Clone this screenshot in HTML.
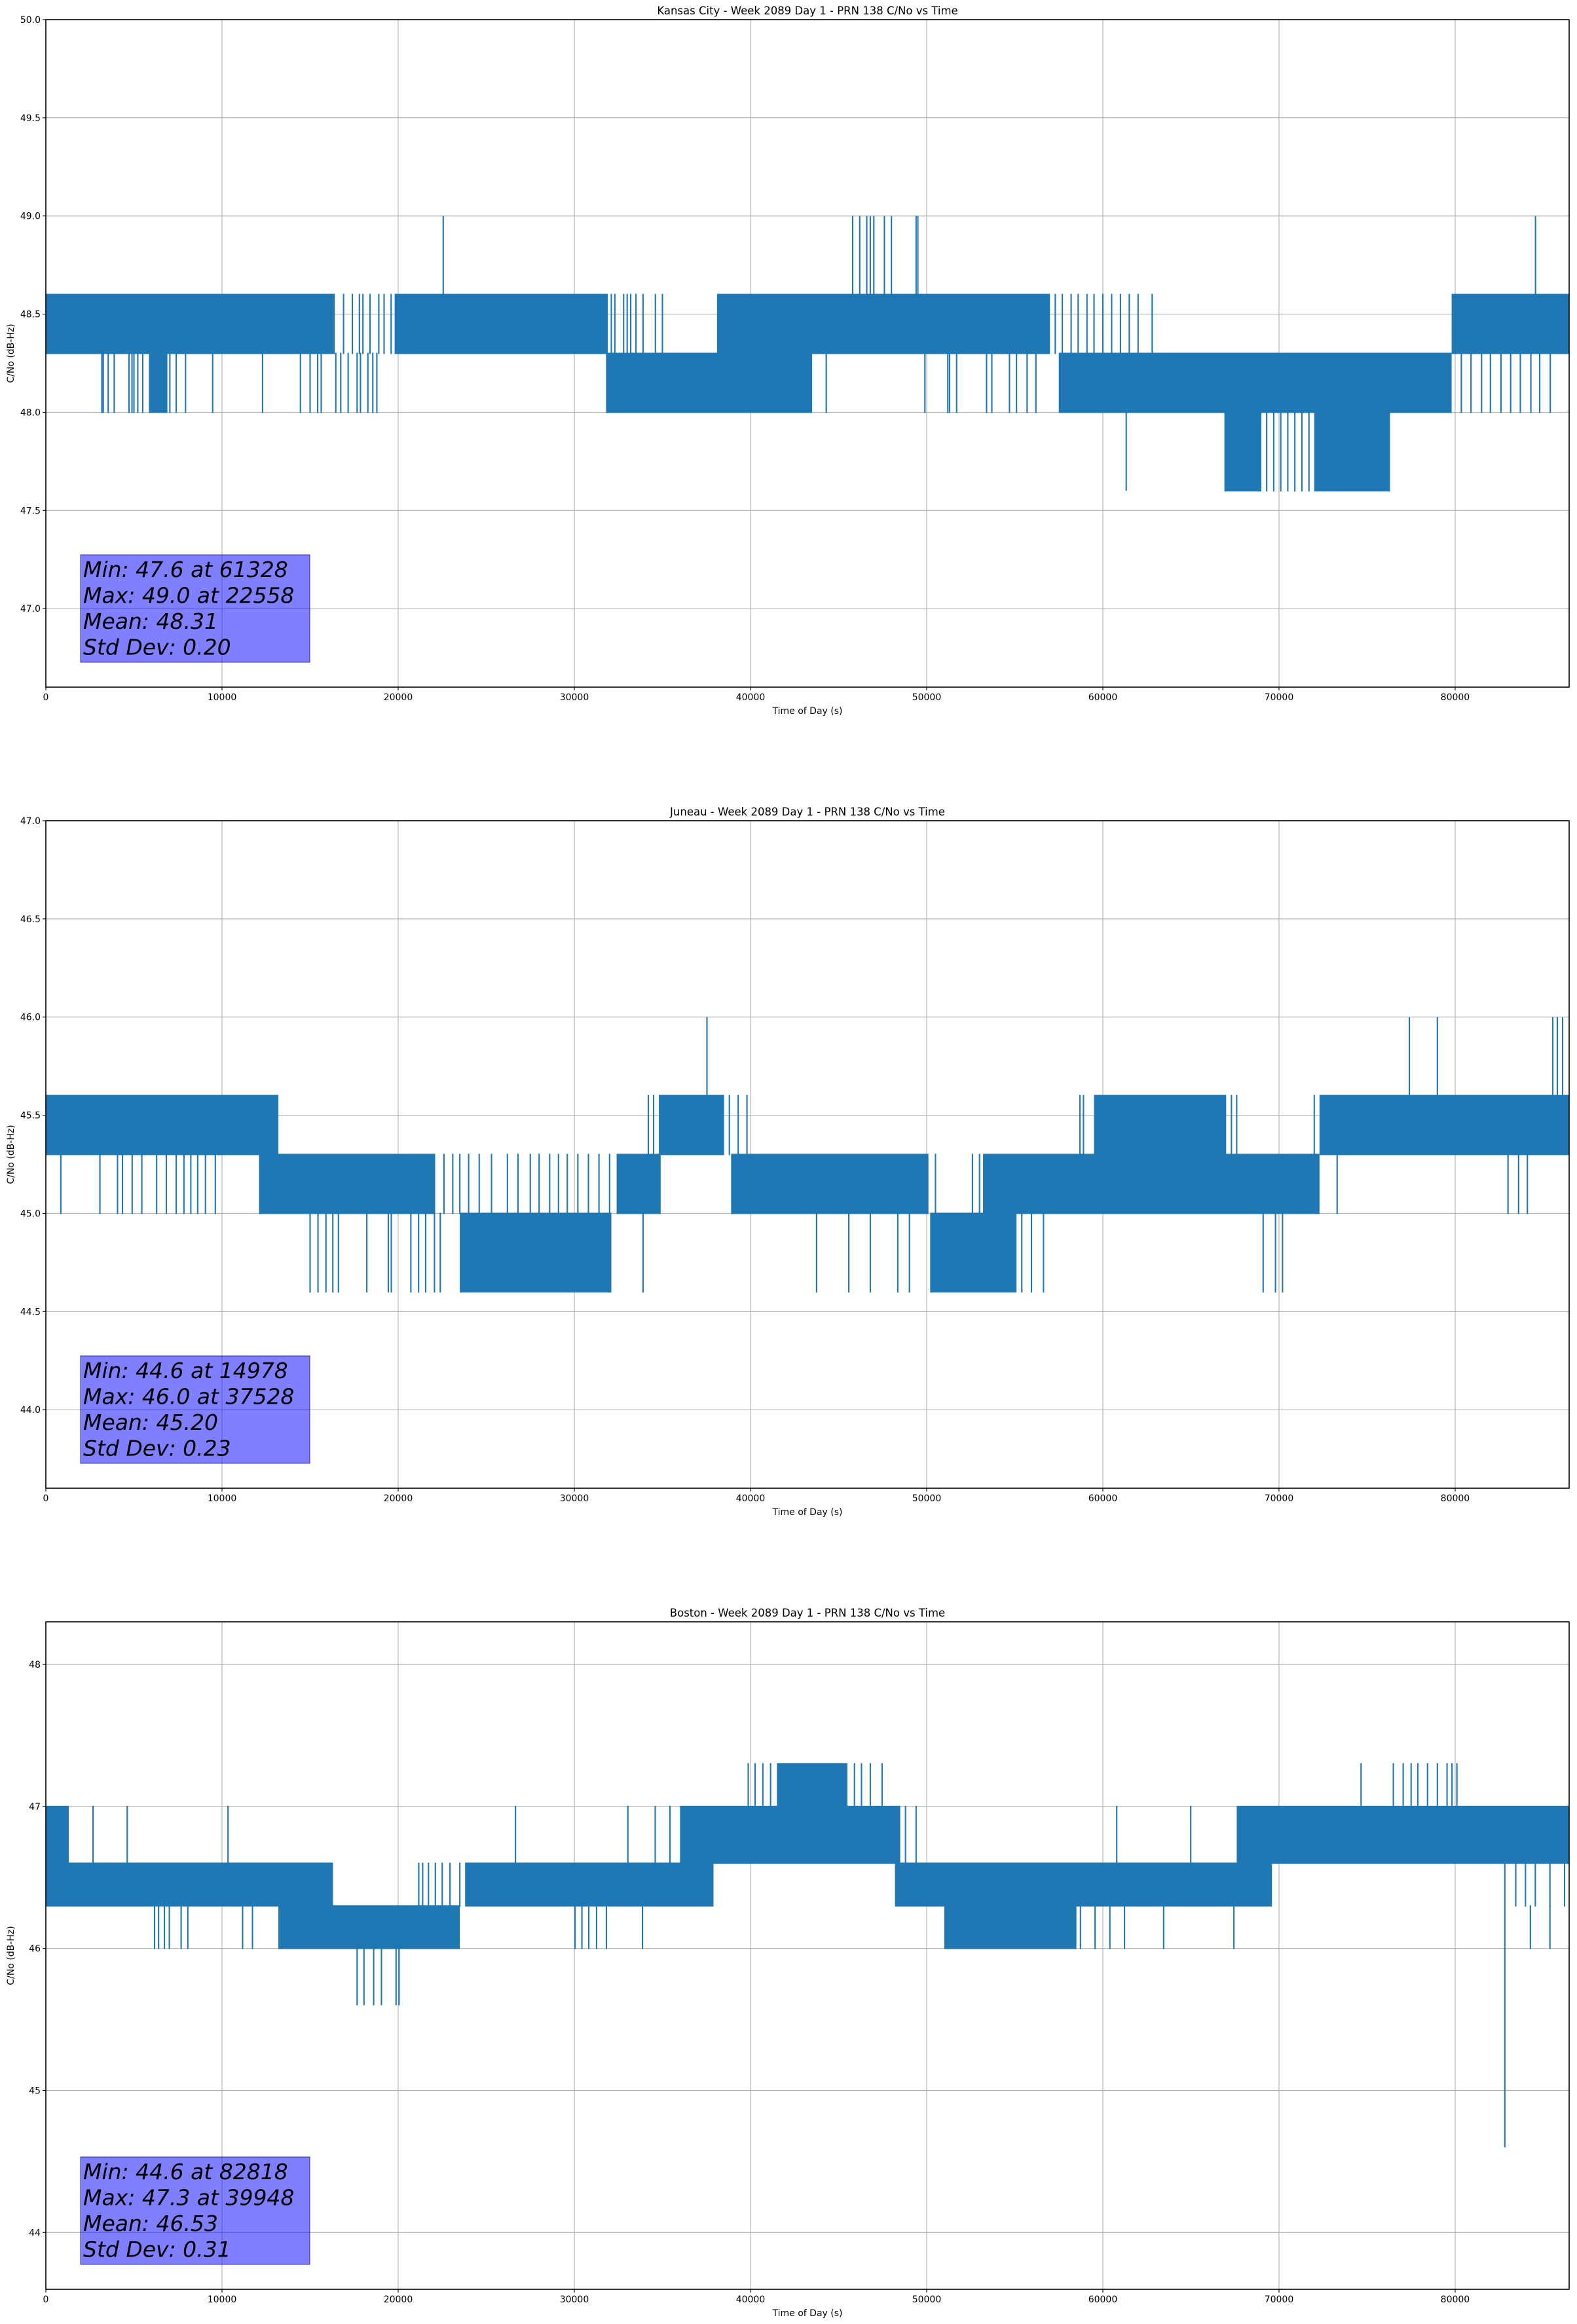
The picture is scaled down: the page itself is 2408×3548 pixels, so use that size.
<!DOCTYPE html>
<html><head><meta charset="utf-8">
<style>
html,body{margin:0;padding:0;background:#fff;}
svg{display:block;font-family:"DejaVu Sans","Liberation Sans",sans-serif;}
</style></head>
<body>
<svg id="fig" width="2408" height="3548" viewBox="0 0 2408 3548" xmlns="http://www.w3.org/2000/svg"></svg>
<script>
// ---------- Plot 1: Kansas City ----------
const kcTitle = "Kansas City - Week 2089 Day 1 - PRN 138 C/No vs Time";
const kcYTicks = [47.0, 47.5, 48.0, 48.5, 49.0, 49.5, 50.0];
const kcYRange = [46.6, 50.0];
const kcBands = [[0,16400,48.3,48.6],[19800,31900,48.3,48.6],[38100,57000,48.3,48.6],[79800,86470,48.3,48.6],
  [5850,6900,48.0,48.3],[31800,43500,48.0,48.3],[57500,79800,48.0,48.3],
  [66900,69000,47.6,48.0],[72000,76300,47.6,48.0]];
const kcUpperLines = [16900,17400,17800,18000,18400,18900,19200,19600,32100,32300,32800,33000,33200,33500,33900,34600,35000,57300,57700,58200,58600,59100,59500,60000,60500,61000,61500,62000,62800];
const kcMidLines = [3180,3260,3540,3880,4720,4890,5000,5220,5500,7040,7400,7930,9470,12300,14450,15000,15430,15630,16460,16740,17160,17670,17860,18280,18560,18790,44300,49900,51200,51300,51700,53400,53700,54700,55100,55700,56200,80350,80900,81500,82000,82600,83150,83700,84300,84800,85400];
const kcLowLines = [69300,69700,70100,70500,70900,71300,71700];
const kcSpikes = [[22558,48.6,49.0],[45800,48.6,49.0],[46200,48.6,49.0],[46600,48.6,49.0],[46800,48.6,49.0],[47000,48.6,49.0],[47600,48.6,49.0],[48000,48.6,49.0],[49400,48.6,49.0],[49500,48.6,49.0],[84560,48.6,49.0],[61328,47.6,48.3]];
const kcStats = ["Min: 47.6 at 61328","Max: 49.0 at 22558","Mean: 48.31","Std Dev: 0.20"];

// ---------- Plot 2: Juneau ----------
const juTitle = "Juneau - Week 2089 Day 1 - PRN 138 C/No vs Time";
const juYTicks = [44.0, 44.5, 45.0, 45.5, 46.0, 46.5, 47.0];
const juYRange = [43.6, 47.0];
const juBands = [[0,13200,45.3,45.6],[34800,38500,45.3,45.6],[59500,67000,45.3,45.6],[72300,86470,45.3,45.6],
  [12100,22100,45.0,45.3],[32400,34900,45.0,45.3],[38900,50100,45.0,45.3],[53200,72300,45.0,45.3],
  [23500,32100,44.6,45.0],[50200,55100,44.6,45.0]];
const juUpperLines = [34200,34500,38800,39300,39800,58700,58900,67300,67600,72000];
const juMidLines = [850,3070,4070,4350,4900,5450,6290,6840,7400,7840,8230,8620,9060,9620,22600,23100,23500,24000,24600,25300,26200,26800,27500,28000,28600,29100,29600,30200,30800,31400,32000,50500,52600,53000,73300,83000,83600,84100];
const juLowLines = [15000,15450,15900,16290,16610,18220,19440,19610,20720,21160,21560,22060,22390,33900,43750,45580,46800,48360,49020,55400,55950,56630,69100,69800,70200];
const juSpikes = [[37528,45.6,46.0],[77400,45.6,46.0],[78990,45.6,46.0],[85540,45.6,46.0],[85800,45.6,46.0],[86100,45.6,46.0]];
const juStats = ["Min: 44.6 at 14978","Max: 46.0 at 37528","Mean: 45.20","Std Dev: 0.23"];

// ---------- Plot 3: Boston ----------
const boTitle = "Boston - Week 2089 Day 1 - PRN 138 C/No vs Time";
const boYTicks = [44, 45, 46, 47, 48];
const boYRange = [43.6, 48.3];
const boBands = [[0,1300,46.6,47.0],[36000,48500,46.6,47.0],[67600,86470,46.6,47.0],
  [0,16300,46.3,46.6],[23800,37900,46.3,46.6],[48200,69600,46.3,46.6],
  [13200,23500,46.0,46.3],[51000,58500,46.0,46.3],
  [41500,45500,47.0,47.3]];
const boUpperLines = [2680,4620,10340,26660,33040,34590,35430,48800,49400,60790,64990];
const boMidLines = [21170,21390,21720,22110,22500,22940,23500,83440,83990,84550,85380,86210];
const boLowLines = [6170,6400,6730,7010,7680,8060,11170,11730,30040,30430,30820,31260,31820,33870,58730,59560,60400,61230,63450,67440,84270,85380];
const boTopLines = [39870,40260,40700,41140,45900,46300,46800,47470,74660,76490,77050,77500,77880,78430,78990,79540,79820,80100];
const boSpikes = [[17670,45.6,46.3],[18060,45.6,46.3],[18610,45.6,46.3],[19050,45.6,46.3],[19880,45.6,46.3],[20050,45.6,46.3],[82818,44.6,46.6]];
const boStats = ["Min: 44.6 at 82818","Max: 47.3 at 39948","Mean: 46.53","Std Dev: 0.31"];

const xTicks = [0,10000,20000,30000,40000,50000,60000,70000,80000];
const xMax = 86470;

const NS = "http://www.w3.org/2000/svg";
const svg = document.getElementById("fig");
const L = 70, R = 2396, BLUE = "#1f77b4";
function mk(tag, attrs, parent){const e=document.createElementNS(NS,tag);for(const k in attrs)e.setAttribute(k,attrs[k]);(parent||svg).appendChild(e);return e;}

function drawPlot(idx, top, title, yTicks, yRange, bands, lineSets, spikes, stats){
  const bottom = top + 1019;
  const g = mk("g",{});
  
  
  const x = t => L + (t / xMax) * (R - L);
  const y = v => bottom - (v - yRange[0]) / (yRange[1] - yRange[0]) * (bottom - top);
  xTicks.forEach(t=>{
    const l = mk("line",{x1:x(t),x2:x(t),y1:top,y2:bottom,stroke:"#b0b0b0","stroke-width":1.1},g);
    
    
  });
  yTicks.forEach(v=>{
    const l = mk("line",{x1:L,x2:R,y1:y(v),y2:y(v),stroke:"#b0b0b0","stroke-width":1.1},g);
    
    
  });
  bands.forEach(b=>{
    const r = mk("rect",{x:x(b[0]),y:y(b[3])-1,width:Math.max(1,x(b[1])-x(b[0])),height:y(b[2])-y(b[3])+2,fill:BLUE},g);
    
    
  });
  lineSets.forEach(ls=>{
    ls.times.forEach(t=>{
      const l = mk("line",{x1:x(t),x2:x(t),y1:y(ls.lo)+1,y2:y(ls.hi)-1,stroke:BLUE,"stroke-width":2.1},g);
      
      
    });
  });
  spikes.forEach(s=>{
    const l = mk("line",{x1:x(s[0]),x2:x(s[0]),y1:y(s[1]),y2:y(s[2]),stroke:BLUE,"stroke-width":2.1},g);
    
    
  });
  const fr = mk("rect",{x:L,y:top,width:R-L,height:bottom-top,fill:"none",stroke:"#000","stroke-width":1.6},g);
  
  
  xTicks.forEach(t=>{
    mk("line",{x1:x(t),x2:x(t),y1:bottom,y2:bottom+5,stroke:"#000","stroke-width":1.1},g);
    const tx = mk("text",{x:x(t),y:bottom+20,"font-size":14,"text-anchor":"middle",fill:"#000"},g);
    tx.textContent = String(t);
    
    
  });
  yTicks.forEach(v=>{
    mk("line",{x1:L-5,x2:L,y1:y(v),y2:y(v),stroke:"#000","stroke-width":1.1},g);
    const tx = mk("text",{x:L-8,y:y(v)+5,"font-size":14,"text-anchor":"end",fill:"#000"},g);
    tx.textContent = yTicks.every(Number.isInteger) ? String(v) : v.toFixed(1);
    
    
  });
  const ti = mk("text",{x:(L+R)/2,y:top-8,"font-size":16.5,"text-anchor":"middle",fill:"#000"},g);
  ti.textContent = title;
  
  
  const xl = mk("text",{x:(L+R)/2,y:bottom+41,"font-size":14,"text-anchor":"middle",fill:"#000"},g);
  xl.textContent = "Time of Day (s)";
  
  
  const yl = mk("text",{x:0,y:0,"font-size":14,"text-anchor":"middle",fill:"#000",transform:`translate(21,${(top+bottom)/2}) rotate(-90)`},g);
  yl.textContent = "C/No (dB-Hz)";
  
  
  const bx = mk("rect",{x:123,y:top+817,width:350,height:164,fill:"rgba(0,0,255,0.5)",stroke:"rgba(0,0,128,0.5)","stroke-width":1.5},g);
  
  
  stats.forEach((s,i)=>{
    const tx = mk("text",{x:127,y:top+851+i*39.5,"font-size":33,"font-style":"italic",fill:"#000"},g);
    tx.textContent = s;
    
    
  });
}

drawPlot(1, 30, kcTitle, kcYTicks, kcYRange, kcBands,
  [{times:kcUpperLines,lo:48.3,hi:48.6},{times:kcMidLines,lo:48.0,hi:48.3},{times:kcLowLines,lo:47.6,hi:48.0}], kcSpikes, kcStats);
drawPlot(2, 1253, juTitle, juYTicks, juYRange, juBands,
  [{times:juUpperLines,lo:45.3,hi:45.6},{times:juMidLines,lo:45.0,hi:45.3},{times:juLowLines,lo:44.6,hi:45.0}], juSpikes, juStats);
drawPlot(3, 2476, boTitle, boYTicks, boYRange, boBands,
  [{times:boUpperLines,lo:46.6,hi:47.0},{times:boMidLines,lo:46.3,hi:46.6},{times:boLowLines,lo:46.0,hi:46.3},{times:boTopLines,lo:47.0,hi:47.3}], boSpikes, boStats);
</script>
</body></html>
